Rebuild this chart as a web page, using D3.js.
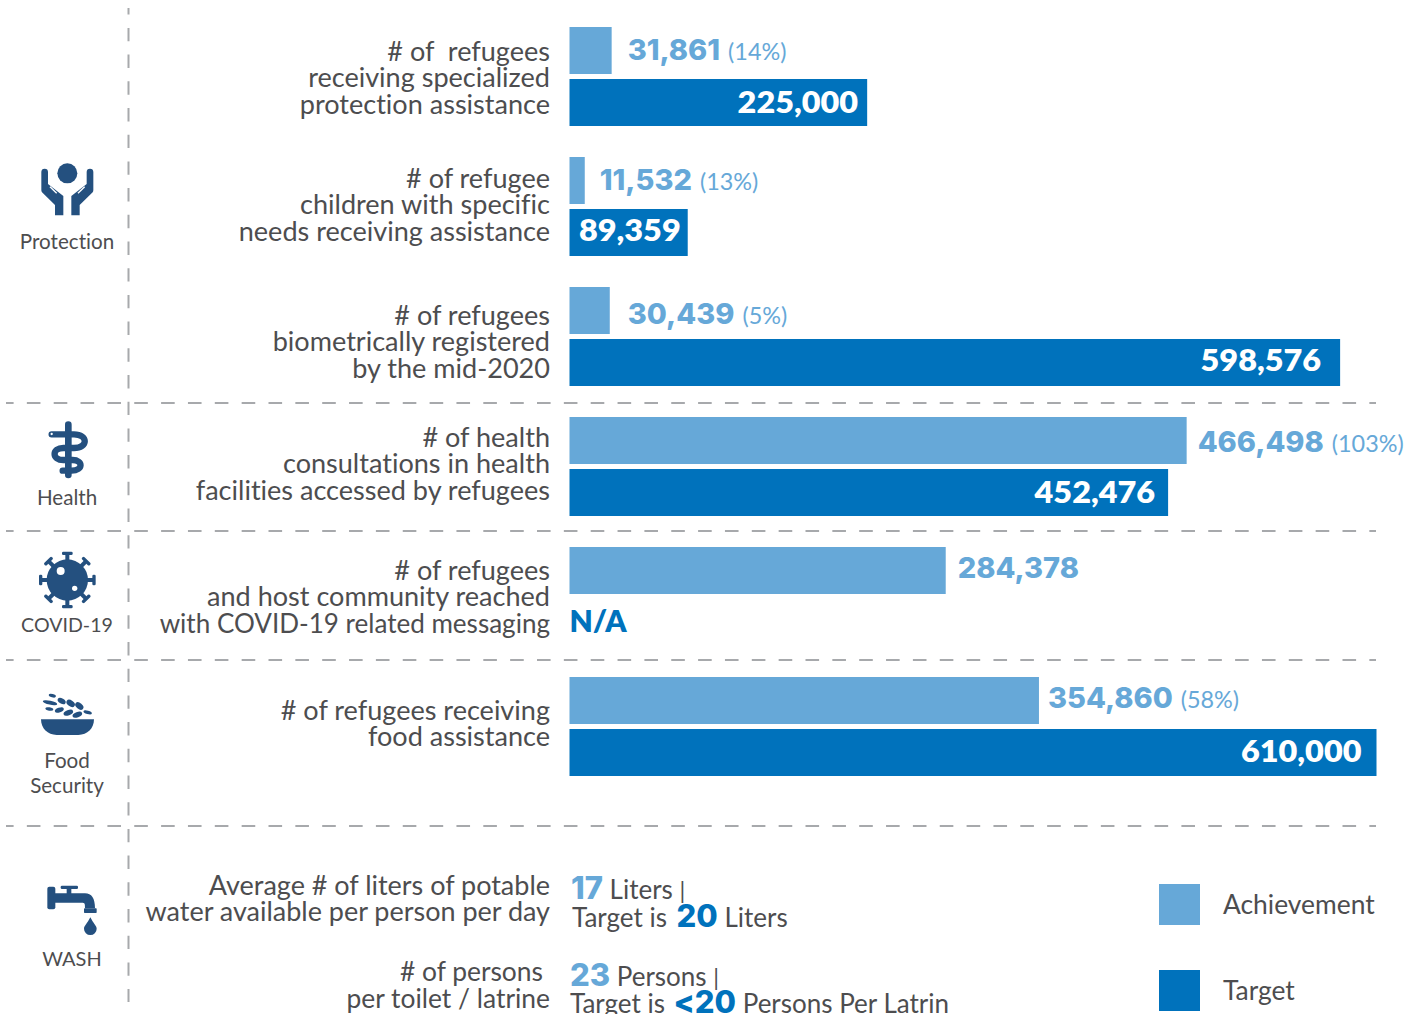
<!DOCTYPE html>
<html><head><meta charset="utf-8">
<script src="https://cdn.jsdelivr.net/npm/d3@7/dist/d3.min.js"></script>
<style>html,body{margin:0;padding:0;background:#fff}svg{display:block}text{font-family:Lato,sans-serif;white-space:pre;font-variant-ligatures:none}</style>
</head><body><svg id="c" width="1408" height="1014"></svg>
<script>
// --- data ---
const indicators = [
  ["# of  refugees","receiving specialized","protection assistance"],
  ["# of refugee","children with specific","needs receiving assistance"],
  ["# of refugees","biometrically registered","by the mid-2020"],
  ["# of health","consultations in health","facilities accessed by refugees"],
  ["# of refugees","and host community reached","with COVID-19 related messaging"],
  ["# of refugees receiving","food assistance"]
];
const achievement = [31861,11532,30439,466498,284378,354860];
const achievementPct = ["(14%)","(13%)","(5%)","(103%)","","(58%)"];
const targetLabels = ["225,000","89,359","598,576","452,476","N/A","610,000"];
// Drawn length of the target bars as measured in the picture. The third bar
// is drawn shorter in the source than its 598,576 label implies.
const targetDrawn = [225000,89359,582500,452476,null,610000];
const legendItems = ["Achievement","Target"];

const LIGHT="#66a8d8",DARK="#0072bc",TXT="#4d4d4f",ICON="#24507f",GRID="#a7a9ac";
const svg=d3.select("#c");
const x=d3.scaleLinear().domain([0,610000]).range([0,807]);
const y=d3.scaleLinear().domain([0,5]).range([27,677]);
const X0=569.5,BH=47,GAP=52;
const fmt=d3.format(",");
const BOLD='Inter,sans-serif', FS=26.4;
// stretch a run to the proportions of the source face
const widen=(sel,k)=>{sel.each(function(){const l=this.getComputedTextLength();d3.select(this).attr("textLength",l*k).attr("lengthAdjust","spacingAndGlyphs");});return sel;};
const labelFit=s=>s.includes("COVID")?0.987:1.025;

// grid
[403,531,660,826].forEach(v=>svg.append("line").attr("x1",6).attr("x2",1376).attr("y1",v).attr("y2",v)
  .attr("stroke",GRID).attr("stroke-width",2).attr("stroke-dasharray","13.6 13.25").attr("stroke-dashoffset",6));
svg.append("line").attr("x1",128.5).attr("x2",128.5).attr("y1",8).attr("y2",1002)
  .attr("stroke",GRID).attr("stroke-width",2).attr("stroke-dasharray","13.4 13.3").attr("stroke-dashoffset",6.8);

// bars
svg.selectAll(".a").data(achievement).join("rect").attr("class","a").attr("x",X0)
  .attr("y",(d,i)=>y(i)).attr("width",d=>x(d)).attr("height",BH).attr("fill",LIGHT);
svg.selectAll(".t").data(targetDrawn).join("rect").attr("class","t").attr("x",X0)
  .attr("y",(d,i)=>y(i)+GAP).attr("width",d=>d?x(d):0).attr("height",BH).attr("fill",DARK);

// row labels
const lineTops=[33.6,30.6,37.6,29.6,32.6,42.6];
indicators.forEach((ls,i)=>ls.forEach((l,j)=>{
  widen(svg.append("text").attr("x",550).attr("y",y(i)+lineTops[i]+j*26.8).attr("text-anchor","end")
    .attr("font-size",FS).attr("fill",TXT).text(l),labelFit(l));
}));

// value labels
const aGap=[16,15,18,11,12,9], aBase=[33,33,37,35,31,31];
achievement.forEach((d,i)=>{
  const t=svg.append("text").attr("x",X0+x(d)+aGap[i]).attr("y",y(i)+aBase[i]);
  t.append("tspan").attr("font-family",BOLD).attr("font-weight",800).attr("font-size",29).attr("fill",LIGHT).text(fmt(d));
  if(achievementPct[i]) t.append("tspan").attr("dx",8).attr("font-size",23.4).attr("fill",LIGHT).text(achievementPct[i]);
});
const tPad=[9,7,19,13,0,15], tBase=[34,32,32,34,33,33];
targetLabels.forEach((d,i)=>{
  const na=targetDrawn[i]===null;
  const t=svg.append("text").attr("x",na?X0:X0+x(targetDrawn[i])-tPad[i]).attr("y",y(i)+GAP+tBase[i])
    .attr("text-anchor",na?"start":"end").attr("font-family",BOLD).attr("font-weight",800)
    .attr("font-size",30).attr("fill",na?DARK:"#fff").text(d);
  if(!na) widen(t,1.08);
});

// WASH rows
[["Average # of liters of potable",894.5],["water available per person per day",920.5]].forEach(([s,b])=>
  widen(svg.append("text").attr("x",550).attr("y",b).attr("text-anchor","end").attr("font-size",FS).attr("fill",TXT).text(s),1.022));
[["# of persons",980.5,543],["per toilet / latrine",1007.5,550]].forEach(([s,b,e])=>
  svg.append("text").attr("x",e).attr("y",b).attr("text-anchor","end").attr("font-size",FS).attr("fill",TXT).text(s));
function mixed(xp,yp,parts){const t=svg.append("text").attr("x",xp).attr("y",yp).attr("fill",TXT).attr("font-size",26);
  parts.forEach(([s,c,dx])=>{const p=t.append("tspan").text(s);
    if(c==="bar")p.attr("font-size",23);
    else if(c)p.attr("fill",c).attr("font-family",BOLD).attr("font-weight",800).attr("font-size",31).attr("dx",dx||0);});}
mixed(571,899,[["17",LIGHT],[" Liters "],["|","bar"]]);
mixed(572,927,[["Target is "],["20",DARK,3],[" Liters"]]);
mixed(570,986,[["23",LIGHT],[" Persons "],["|","bar"]]);
mixed(570,1012.5,[["Target is "],["<20",DARK,2],[" Persons Per Latrin"]]);

// legend
legendItems.forEach((l,i)=>{
  const ly=884+i*86;
  svg.append("rect").attr("x",1159).attr("y",ly).attr("width",41).attr("height",41).attr("fill",i?DARK:LIGHT);
  svg.append("text").attr("x",1223).attr("y",ly+30).attr("font-size",FS).attr("fill",TXT).text(l);
});

// category labels
[["Protection",67,249,20.6],["Health",67,505,20.6],["COVID-19",67,632,19.6],["Food",67,768,20.6],["Security",67,793,20.6],["WASH",72,966,20]].forEach(([s,a,b,f])=>
  svg.append("text").attr("x",a).attr("y",b).attr("text-anchor","middle").attr("font-size",f).attr("fill",TXT).text(s));

// icons (drawn in zoomed units, scale 1/3)
const ic=(ox,oy)=>svg.append("g").attr("transform",`translate(${ox},${oy}) scale(${1/3})`).attr("fill",ICON);
// protection
let g=ic(0,140);
g.append("circle").attr("cx",202).attr("cy",100).attr("r",30);
const hand="M124,96a10,10 0 0 1 20,0V132L190,168V226H165V195L126,157Q124,154 124,150Z";
g.append("path").attr("d",hand);
g.append("path").attr("d",hand).attr("transform","translate(404,0) scale(-1,1)");
[[150,140,170,160],[254,140,234,160]].forEach(a=>g.append("line").attr("x1",a[0]).attr("y1",a[1]).attr("x2",a[2]).attr("y2",a[3]).attr("stroke","#fff").attr("stroke-width",4));
// health
g=ic(0,410);
g.append("line").attr("x1",205).attr("x2",205).attr("y1",44).attr("y2",195).attr("stroke",ICON).attr("stroke-width",20).attr("stroke-linecap","round");
const snake="M155,73H222C265,73 265,114 222,114H190C155,114 155,150 190,150H218C250,150 250,182 215,182H188";
g.append("path").attr("d",snake).attr("fill","none").attr("stroke",ICON).attr("stroke-width",19).attr("stroke-linecap","round");
g.append("circle").attr("cx",155).attr("cy",72).attr("r",3.5).attr("fill","#fff");
// covid
g=ic(0,410);
d3.range(8).forEach(k=>{
  const s=g.append("g").attr("transform",`rotate(${k*45} 202 510)`);
  s.append("rect").attr("x",196).attr("y",430).attr("width",12).attr("height",30);
  s.append("rect").attr("x",186).attr("y",425).attr("width",32).attr("height",10).attr("rx",4);
});
g.append("circle").attr("cx",202).attr("cy",510).attr("r",62);
g.append("circle").attr("cx",182).attr("cy",483).attr("r",12).attr("fill","#fff");
g.append("circle").attr("cx",224).attr("cy",535).attr("r",8).attr("fill","#fff");
// food
g=ic(0,680);
g.append("path").attr("d","M123,118H282C282,145 262,165 235,165H170C143,165 123,145 123,118Z");
[[150,68,22,6,12],[157,47,11,5,15],[185,63,13,8,30],[212,70,14,9,35],[238,78,14,9,40],[148,87,12,5,10],[178,90,14,7,-20],[205,98,15,8,-20],[232,104,15,8,-20],[263,97,13,5,15]]
 .forEach(e=>g.append("ellipse").attr("cx",e[0]).attr("cy",e[1]).attr("rx",e[2]).attr("ry",e[3]).attr("transform",`rotate(${e[4]} ${e[0]} ${e[1]})`));
// tap
g.append("rect").attr("x",142).attr("y",620).attr("width",24).attr("height",68).attr("rx",6);
g.append("path").attr("d","M160,640H255C275,640 285,655 285,685H255C255,670 255,668 245,668H160Z");
g.append("rect").attr("x",200).attr("y",622).attr("width",14).attr("height",20);
g.append("rect").attr("x",182).attr("y",617).attr("width",52).attr("height",10).attr("rx",4);
g.append("rect").attr("x",252).attr("y",685).attr("width",38).attr("height",14).attr("rx",2);
g.append("path").attr("d","M271,712C280,730 290,738 290,746a19,19 0 0 1 -38,0C252,738 262,730 271,712Z");
</script></body></html>
